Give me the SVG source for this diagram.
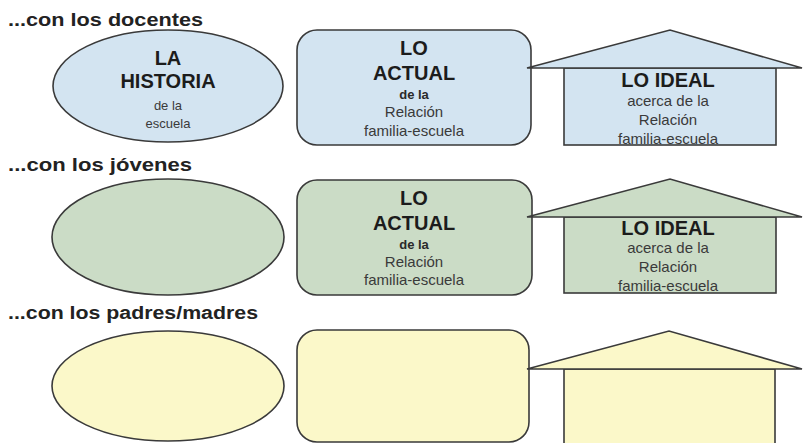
<svg xmlns="http://www.w3.org/2000/svg" width="803" height="443" viewBox="0 0 803 443">
<style>
text{font-family:"Liberation Sans",Arial,sans-serif;text-anchor:middle}
.title{font-size:18px;font-weight:bold;fill:#222;text-anchor:start}
.big{font-size:20px;font-weight:bold;fill:#1c1c1c}
.sb{font-size:13px;font-weight:bold;fill:#2a2a2a}
.sm{font-size:15px;fill:#3a3a3a}
.se{font-size:13px;fill:#3a3a3a}
.shape{stroke:#3a3a3a;stroke-width:1.6}
.blue{fill:#d3e4f1}
.green{fill:#cbdcc6}
.yellow{fill:#fbf8c9}
</style>
<rect width="803" height="443" fill="#ffffff"/>
<g id="titles">
<text class="title" x="8" y="26" textLength="195" lengthAdjust="spacingAndGlyphs">...con los docentes</text>
<text class="title" x="8" y="171" textLength="184" lengthAdjust="spacingAndGlyphs">...con los jóvenes</text>
<text class="title" x="8" y="319" textLength="250" lengthAdjust="spacingAndGlyphs">...con los padres/madres</text>
</g>
<g id="connectors"></g>
<g id="historia-docentes">
<ellipse class="shape blue" cx="168" cy="86" rx="115" ry="56"/>
<text class="big" x="168" y="65">LA</text>
<text class="big" x="168" y="88">HISTORIA</text>
<text class="se" x="168" y="110">de la</text>
<text class="se" x="168" y="128">escuela</text>
</g>
<g id="actual-docentes">
<rect class="shape blue" x="297" y="30" width="234" height="115" rx="20"/>
<text class="big" x="414" y="55">LO</text>
<text class="big" x="414" y="80">ACTUAL</text>
<text class="sb" x="414" y="99">de la</text>
<text class="sm" x="414" y="117">Relación</text>
<text class="sm" x="414" y="136">familia-escuela</text>
</g>
<g id="ideal-docentes">
<rect class="shape blue" x="564" y="68" width="212" height="77"/>
<polygon class="shape blue" points="527,68 670,30 802,68"/>
<text class="big" x="668" y="87">LO IDEAL</text>
<text class="sm" x="668" y="106">acerca de la</text>
<text class="sm" x="668" y="125">Relación</text>
<text class="sm" x="668" y="144">familia-escuela</text>
</g>
<g id="historia-jovenes">
<ellipse class="shape green" cx="168" cy="237" rx="116" ry="58"/>
</g>
<g id="actual-jovenes">
<rect class="shape green" x="297" y="180" width="235" height="115" rx="20"/>
<text class="big" x="414" y="205">LO</text>
<text class="big" x="414" y="230">ACTUAL</text>
<text class="sb" x="414" y="249">de la</text>
<text class="sm" x="414" y="267">Relación</text>
<text class="sm" x="414" y="285">familia-escuela</text>
</g>
<g id="ideal-jovenes">
<rect class="shape green" x="564" y="217" width="212" height="76"/>
<polygon class="shape green" points="527,217 670,179 802,217"/>
<text class="big" x="668" y="235">LO IDEAL</text>
<text class="sm" x="668" y="253">acerca de la</text>
<text class="sm" x="668" y="272">Relación</text>
<text class="sm" x="668" y="291">familia-escuela</text>
</g>
<g id="historia-padres">
<ellipse class="shape yellow" cx="168" cy="386" rx="116" ry="55"/>
</g>
<g id="actual-padres">
<rect class="shape yellow" x="297" y="330" width="232" height="112" rx="20"/>
</g>
<g id="ideal-padres">
<rect class="shape yellow" x="564" y="369" width="211" height="80"/>
<polygon class="shape yellow" points="527,369 669,331 802,369"/>
</g>
</svg>
